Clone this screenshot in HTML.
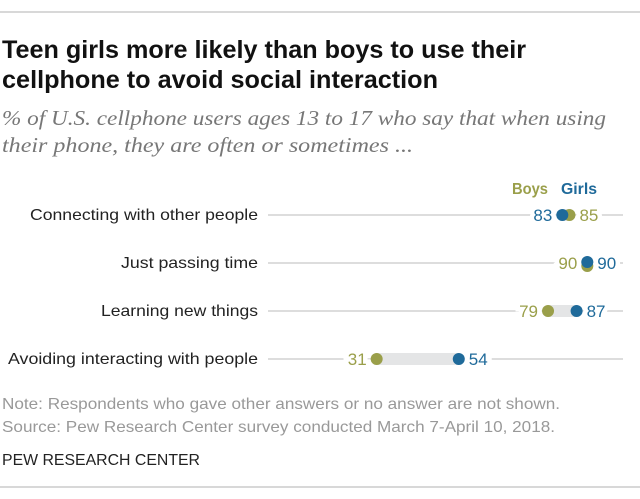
<!DOCTYPE html>
<html><head><meta charset="utf-8"><style>
body{margin:0;background:#fff;}
svg{display:block;}
.t{font-family:"Liberation Sans",sans-serif;font-weight:bold;font-size:25px;fill:#111;}
.s{font-family:"Liberation Serif",serif;font-style:italic;font-size:21.5px;fill:#777;}
.l{font-family:"Liberation Sans",sans-serif;font-size:16px;fill:#222;}
.v{font-family:"Liberation Sans",sans-serif;font-size:17px;paint-order:stroke;stroke:#fff;stroke-width:9px;}
.n{font-family:"Liberation Sans",sans-serif;font-size:16px;fill:#999;}
</style></head><body>
<svg id="c" width="640" height="499">
<line x1="0" y1="12" x2="640" y2="12" stroke="#ccc" stroke-width="1.5"/>
<text class="t" x="2" y="58" textLength="524" lengthAdjust="spacingAndGlyphs">Teen girls more likely than boys to use their</text>
<text class="t" x="2" y="88" textLength="436" lengthAdjust="spacingAndGlyphs">cellphone to avoid social interaction</text>
<text class="s" x="2" y="125" textLength="604" lengthAdjust="spacingAndGlyphs">% of U.S. cellphone users ages 13 to 17 who say that when using</text>
<text class="s" x="2" y="152" textLength="411" lengthAdjust="spacingAndGlyphs">their phone, they are often or sometimes ...</text>
<text x="512" y="194" textLength="36" lengthAdjust="spacingAndGlyphs" font-family="Liberation Sans, sans-serif" font-weight="bold" font-size="16" fill="#9a9f4a">Boys</text>
<text x="561" y="194" textLength="36" lengthAdjust="spacingAndGlyphs" font-family="Liberation Sans, sans-serif" font-weight="bold" font-size="16" fill="#1f6a9a">Girls</text>
<g id="plot"></g>
<text class="n" x="2" y="409" textLength="558" lengthAdjust="spacingAndGlyphs">Note: Respondents who gave other answers or no answer are not shown.</text>
<text class="n" x="2" y="432" textLength="553" lengthAdjust="spacingAndGlyphs">Source: Pew Research Center survey conducted March 7-April 10, 2018.</text>
<text class="n" x="2" y="465" textLength="198" lengthAdjust="spacingAndGlyphs" style="fill:#222">PEW RESEARCH CENTER</text>
<line x1="0" y1="487" x2="640" y2="487" stroke="#ccc" stroke-width="1.5"/>
</svg>
<script>
const categories=["Connecting with other people","Just passing time","Learning new things","Avoiding interacting with people"];
const boys=[85,90,79,31];
const girls=[83,90,87,54];
const BOY="#9a9f4a",GIRL="#1f6a9a";
const x=v=>266+v*3.57;
const y=i=>215+i*48;
const g=document.getElementById('plot');
const NS="http://www.w3.org/2000/svg";
function mk(t,a){const e=document.createElementNS(NS,t);for(const k in a)e.setAttribute(k,a[k]);g.appendChild(e);return e;}
const labW=[228,137,157,250];
categories.forEach((c,i)=>{
  const yy=y(i);
  const lab=mk('text',{x:258,y:yy+5,'text-anchor':'end','class':'l',textLength:labW[i],lengthAdjust:'spacingAndGlyphs'});lab.textContent=c;
  
  
  const ln=mk('line',{x1:268,y1:yy,x2:623,y2:yy,stroke:'#bbb','stroke-width':1});
  
  
  const b=boys[i],gi=girls[i];
  const bar=mk('line',{x1:x(Math.min(b,gi)),y1:yy,x2:x(Math.max(b,gi)),y2:yy,stroke:'#e4e5e6','stroke-width':12});
  
  
  const boyLeft=b<=gi;
  const lo=Math.min(b,gi),hi=Math.max(b,gi);
  const tb=mk('text',{x:boyLeft?x(lo)-10:x(hi)+10,y:yy+6,'text-anchor':boyLeft?'end':'start','class':'v',fill:BOY});tb.textContent=b;
  
  
  const tg=mk('text',{x:boyLeft?x(hi)+10:x(lo)-10,y:yy+6,'text-anchor':boyLeft?'start':'end','class':'v',fill:GIRL});tg.textContent=gi;
  
  
  const db=mk('circle',{cx:x(b),cy:yy+(b===gi?3:0),r:6,fill:BOY});
  
  
  const dg=mk('circle',{cx:x(gi),cy:yy-(b===gi?1:0),r:6,fill:GIRL});
  
  
});
</script>
</body></html>
